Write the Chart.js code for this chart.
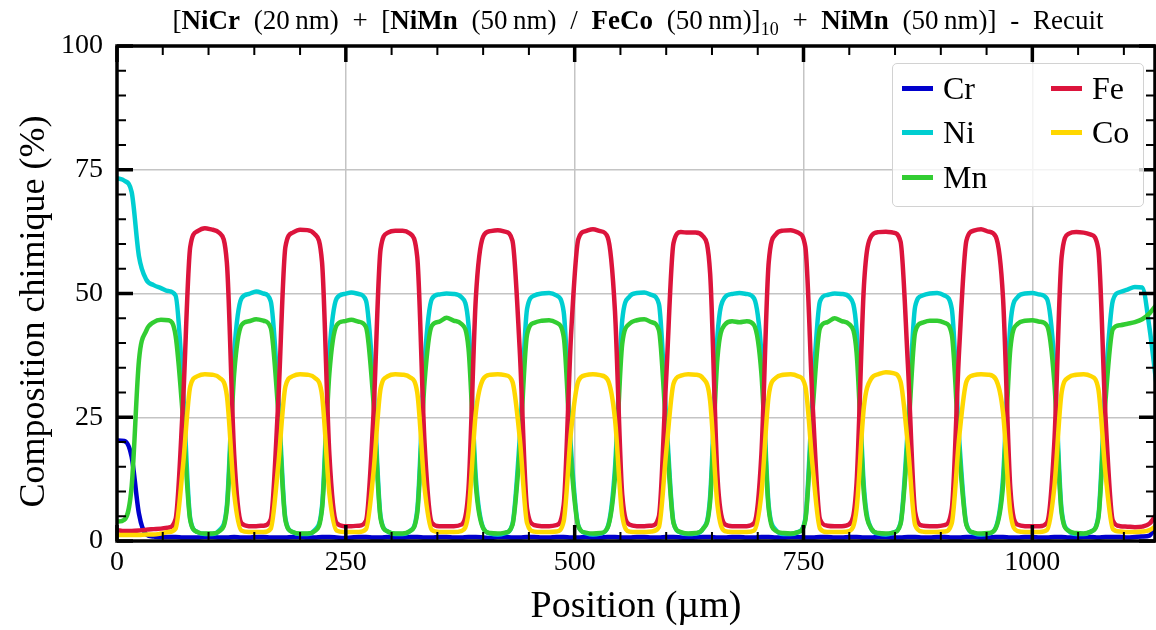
<!DOCTYPE html>
<html>
<head>
<meta charset="utf-8">
<script src="https://cdn.jsdelivr.net/npm/chart.js@4.4.1/dist/chart.umd.min.js"></script>
<style>
  body { margin: 0; background: #fff; }
  #wrap { position: relative; width: 1156px; height: 630px; }
  #title {
    position: absolute; left: 60px; width: 1156px; top: 5px;
    text-align: center; font-family: "Liberation Serif", serif; font-size: 27px; color: #000;
    white-space: nowrap; word-spacing: 7px;
  }
  #title sub { font-size: 18px; }
  #legend {
    position: absolute; left: 892px; top: 63px; width: 252px; height: 144px;
    box-sizing: border-box; border: 1.5px solid #d2d2d2; border-radius: 5px;
    background: rgba(255, 255, 255, 0.8);
    display: grid; grid-template-columns: 149px 1fr; grid-template-rows: repeat(3, 44.5px);
    grid-auto-flow: column; padding-top: 2px;
    font-family: "Liberation Serif", serif; font-size: 32px; color: #000;
  }
  #legend .item { display: flex; align-items: center; }
  #legend .swatch { width: 31px; height: 5px; margin-left: 9px; margin-right: 10px; }
</style>
</head>
<body>
<div id="wrap">
  <canvas id="chart" width="1156" height="630"></canvas>
  <div id="title">[<b>NiCr</b> (20&#8201;nm) + [<b>NiMn</b> (50&#8201;nm) / <b>FeCo</b> (50&#8201;nm)]<sub>10</sub> + <b>NiMn</b> (50&#8201;nm)] - Recuit</div>
  <div id="legend"></div>
</div>
<script>
// profil EDS, un point tous les 8 µm (0 -> 1136 µm)
const step = 8;

const cr = [
  20.3, 20.2, 17.0, 5.5, 1.3, 0.9, 0.8, 0.8,
  0.8, 0.7, 0.7, 0.7, 0.8, 0.8, 0.7, 0.7,
  0.8, 0.7, 0.7, 0.8, 0.8, 0.7, 0.7, 0.7,
  0.8, 0.8, 0.7, 0.7, 0.8, 0.8, 0.7, 0.6,
  0.7, 0.8, 0.8, 0.7, 0.7, 0.8, 0.7, 0.7,
  0.8, 0.8, 0.7, 0.7, 0.8, 0.8, 0.7, 0.7,
  0.8, 0.8, 0.7, 0.6, 0.8, 0.8, 0.7, 0.7,
  0.8, 0.8, 0.7, 0.7, 0.8, 0.8, 0.7, 0.7,
  0.8, 0.7, 0.7, 0.8, 0.8, 0.7, 0.7, 0.8,
  0.8, 0.7, 0.7, 0.8, 0.8, 0.7, 0.6, 0.7,
  0.8, 0.8, 0.7, 0.7, 0.8, 0.8, 0.7, 0.7,
  0.8, 0.8, 0.7, 0.7, 0.8, 0.8, 0.7, 0.7,
  0.8, 0.8, 0.7, 0.7, 0.8, 0.8, 0.7, 0.7,
  0.8, 0.8, 0.7, 0.7, 0.8, 0.8, 0.7, 0.7,
  0.8, 0.8, 0.7, 0.7, 0.8, 0.8, 0.7, 0.7,
  0.8, 0.8, 0.7, 0.7, 0.8, 0.8, 0.7, 0.7,
  0.8, 0.8, 0.7, 0.7, 0.8, 0.8, 0.7, 0.8,
  0.8, 0.8, 0.7, 0.8, 0.9, 1.1, 3.5
];

const ni = [
  73.3, 72.8, 70.5, 57.5, 52.8, 51.7, 51.1, 50.5,
  49.6, 31.0, 4.5, 1.8, 1.4, 1.4, 2.2, 7.1,
  37.9, 49.0, 49.9, 50.4, 50.0, 48.4, 29.7, 4.5,
  1.8, 1.4, 1.4, 2.2, 7.1, 37.9, 49.0, 49.9,
  50.2, 49.9, 48.6, 32.0, 4.9, 1.9, 1.4, 1.4,
  2.0, 6.2, 36.1, 48.9, 49.8, 50.0, 49.9, 49.3,
  43.7, 12.8, 2.7, 1.5, 1.3, 1.6, 3.4, 20.8,
  46.9, 49.6, 50.0, 50.1, 49.6, 46.3, 18.6, 3.1,
  1.6, 1.3, 1.5, 2.8, 14.6, 44.7, 49.4, 50.1,
  50.2, 49.7, 47.9, 25.0, 3.8, 1.7, 1.4, 1.5,
  2.4, 9.0, 41.5, 49.2, 49.9, 50.1, 49.9, 49.0,
  37.9, 7.1, 2.2, 1.4, 1.4, 1.8, 4.5, 29.7,
  48.4, 49.7, 50.0, 49.9, 49.3, 42.6, 10.9, 2.5,
  1.5, 1.3, 1.7, 3.6, 22.9, 47.4, 49.6, 50.0,
  50.1, 49.6, 46.9, 20.8, 3.4, 1.6, 1.3, 1.5,
  2.7, 12.8, 43.7, 49.3, 50.0, 50.1, 49.8, 48.9,
  36.1, 6.2, 2.0, 1.4, 1.4, 1.9, 4.9, 32.0,
  48.6, 50.3, 50.8, 51.3, 51.2, 43.0, 31.0
];

const mn = [
  3.9, 4.3, 11.0, 36.5, 42.5, 44.2, 44.7, 44.6,
  41.5, 25.0, 4.2, 1.8, 1.5, 1.5, 2.0, 6.4,
  33.8, 43.6, 44.4, 44.8, 44.5, 43.0, 26.5, 4.2,
  1.8, 1.5, 1.5, 2.0, 6.4, 33.8, 43.6, 44.4,
  44.7, 44.3, 43.2, 28.5, 4.5, 1.9, 1.5, 1.5,
  2.0, 5.6, 32.1, 43.5, 44.3, 45.1, 44.5, 43.9,
  38.9, 11.3, 2.6, 1.6, 1.5, 1.7, 3.2, 18.5,
  41.7, 44.1, 44.5, 44.6, 44.1, 41.3, 16.5, 3.0,
  1.7, 1.5, 1.6, 2.7, 12.9, 39.9, 43.9, 44.6,
  44.8, 44.2, 42.6, 22.5, 3.6, 1.8, 1.5, 1.6,
  2.4, 8.0, 37.0, 43.7, 44.4, 44.2, 44.4, 43.6,
  33.8, 6.4, 2.0, 1.6, 1.5, 1.8, 4.2, 26.5,
  43.0, 44.2, 45.0, 44.4, 43.8, 38.0, 9.6, 2.5,
  1.6, 1.5, 1.7, 3.4, 20.5, 42.2, 44.1, 44.5,
  44.5, 44.1, 41.7, 18.5, 3.2, 1.7, 1.5, 1.6,
  2.6, 11.3, 38.9, 43.9, 44.5, 44.6, 44.3, 43.5,
  32.1, 5.6, 2.0, 1.6, 1.5, 1.9, 4.5, 28.5,
  42.8, 43.6, 43.9, 44.2, 44.8, 46.0, 47.8
];

const fe = [
  2.2, 2.0, 2.0, 2.1, 2.3, 2.4, 2.5, 2.7,
  4.4, 27.5, 59.4, 62.6, 63.2, 62.9, 62.2, 56.3,
  17.5, 3.6, 3.0, 3.0, 3.1, 4.4, 27.5, 59.4,
  62.3, 62.9, 62.8, 62.0, 56.3, 17.5, 3.6, 3.0,
  3.0, 3.1, 4.1, 24.8, 59.0, 62.3, 62.7, 62.7,
  62.1, 57.4, 19.8, 3.7, 3.0, 3.0, 3.0, 3.3,
  10.5, 49.0, 61.5, 62.6, 62.8, 62.5, 60.7, 38.5,
  6.5, 3.2, 3.0, 3.0, 3.2, 7.3, 41.5, 61.0,
  62.6, 63.0, 62.6, 61.4, 46.5, 9.3, 3.3, 3.0,
  3.0, 3.1, 5.0, 33.0, 60.2, 62.4, 62.3, 62.3,
  61.6, 54.0, 13.0, 3.4, 3.0, 3.0, 3.0, 3.6,
  17.5, 56.3, 62.0, 62.7, 62.8, 62.3, 59.4, 27.5,
  4.4, 3.1, 3.0, 3.0, 3.4, 11.8, 51.5, 61.6,
  62.4, 62.5, 62.3, 60.5, 35.8, 5.8, 3.1, 3.0,
  3.0, 3.2, 6.5, 38.5, 60.7, 62.7, 63.0, 62.5,
  61.5, 49.0, 10.5, 3.3, 3.0, 3.0, 3.0, 3.7,
  19.8, 57.4, 62.1, 62.4, 62.3, 61.9, 59.0, 24.8,
  4.1, 3.0, 2.9, 2.8, 2.9, 3.5, 5.5
];

const co = [
  1.2, 1.2, 1.2, 1.2, 1.3, 1.3, 1.5, 1.8,
  2.5, 15.0, 31.2, 33.3, 33.7, 33.6, 33.0, 29.4,
  9.6, 2.1, 1.8, 1.8, 1.8, 2.5, 15.0, 31.2,
  33.3, 33.7, 33.6, 33.0, 29.4, 9.6, 2.1, 1.8,
  1.8, 1.8, 2.4, 13.5, 30.8, 33.3, 33.7, 33.6,
  33.1, 30.0, 10.8, 2.2, 1.8, 1.8, 1.8, 2.0,
  5.8, 25.9, 32.7, 33.6, 33.7, 33.5, 32.2, 20.8,
  3.6, 1.9, 1.8, 1.8, 1.9, 4.0, 22.1, 32.3,
  33.5, 33.7, 33.5, 32.6, 24.7, 5.1, 1.9, 1.8,
  1.8, 1.9, 2.8, 18.0, 31.8, 33.4, 33.7, 33.6,
  32.9, 28.3, 7.2, 2.0, 1.8, 1.8, 1.8, 2.1,
  9.6, 29.4, 33.0, 33.6, 33.7, 33.3, 31.2, 15.0,
  2.5, 1.8, 1.8, 1.8, 2.0, 6.5, 27.1, 32.8,
  33.7, 34.1, 33.9, 32.2, 19.4, 3.2, 1.9, 1.8,
  1.8, 1.9, 3.6, 20.8, 32.2, 33.5, 33.7, 33.6,
  32.7, 25.9, 5.8, 2.0, 1.8, 1.8, 1.8, 2.2,
  10.8, 30.0, 33.1, 33.6, 33.7, 33.3, 30.8, 13.5,
  2.4, 1.9, 1.8, 1.8, 1.9, 2.2, 3.2
];

const labels = ["Cr", "Ni", "Mn", "Fe", "Co"];
const colors = ["#0000cd", "#00ced1", "#32cd32", "#dc143c", "#ffd700"];
const values = [cr, ni, mn, fe, co];

const xMax = 1134;
const xMajor = [0, 250, 500, 750, 1000];
const yMajor = [0, 25, 50, 75, 100];

const positions = cr.map((_, i) => i * step);

const font = "Liberation Serif";

// legende en deux colonnes (Cr, Ni, Mn | Fe, Co)
const legend = document.getElementById("legend");
labels.forEach((name, i) => {
  const item = document.createElement("div");
  item.className = "item";
  item.innerHTML = '<span class="swatch" style="background:' + colors[i] + '"></span><span>' + name + "</span>";
  legend.appendChild(item);
});

// cadre noir + graduations vers l'interieur sur les 4 cotes
const frameTicks = {
  id: "frameTicks",
  afterDraw(chart) {
    const { ctx, chartArea: a, scales } = chart;
    ctx.save();
    ctx.strokeStyle = "#000";

    for (let v = 0; v <= xMax; v += 50) {
      const px = scales.x.getPixelForValue(v);
      const major = v % 250 === 0;
      const len = major ? 16 : 9;
      ctx.lineWidth = major ? 3.5 : 2;
      ctx.beginPath();
      ctx.moveTo(px, a.bottom); ctx.lineTo(px, a.bottom - len);
      ctx.moveTo(px, a.top); ctx.lineTo(px, a.top + len);
      ctx.stroke();
    }

    for (let v = 0; v <= 100; v += 5) {
      const py = scales.y.getPixelForValue(v);
      const major = v % 25 === 0;
      const len = major ? 16 : 9;
      ctx.lineWidth = major ? 3.5 : 2;
      ctx.beginPath();
      ctx.moveTo(a.left, py); ctx.lineTo(a.left + len, py);
      ctx.moveTo(a.right, py); ctx.lineTo(a.right - len, py);
      ctx.stroke();
    }

    ctx.lineWidth = 3.5;
    ctx.strokeRect(a.left, a.top, a.right - a.left, a.bottom - a.top);
    ctx.restore();
  }
};

new Chart(document.getElementById("chart"), {
  type: "line",
  data: {
    datasets: labels.map((name, i) => ({
      label: name,
      data: values[i].map((v, j) => ({ x: positions[j], y: v })),
      borderColor: colors[i],
      backgroundColor: colors[i],
      borderWidth: 4.5,
      pointRadius: 0,
      fill: false,
      cubicInterpolationMode: "monotone",
      borderJoinStyle: "round",
      order: labels.length - i
    }))
  },
  options: {
    responsive: false,
    animation: false,
    events: [],
    layout: { padding: { top: 46, right: 1, bottom: 0, left: 0 } },
    plugins: {
      legend: { display: false },
      title: { display: false },
      tooltip: { enabled: false }
    },
    scales: {
      x: {
        type: "linear",
        min: 0,
        max: xMax,
        afterBuildTicks: s => { s.ticks = xMajor.map(v => ({ value: v })); },
        afterFit: s => { s.height = 89; },
        grid: { color: "#c4c4c4", lineWidth: 1.5, drawTicks: false },
        border: { display: false },
        ticks: {
          color: "#000", padding: 5, font: { family: font, size: 28 },
          callback: v => String(v)
        },
        title: {
          display: true,
          text: "Position (µm)",
          color: "#000",
          font: { family: font, size: 38 },
          padding: { top: 0, bottom: 0 }
        }
      },
      y: {
        min: 0,
        max: 100,
        afterBuildTicks: s => { s.ticks = yMajor.map(v => ({ value: v })); },
        afterFit: s => { s.width = 117; },
        grid: { color: "#c4c4c4", lineWidth: 1.5, drawTicks: false },
        border: { display: false },
        ticks: {
          color: "#000", padding: 14, font: { family: font, size: 28 },
          callback: v => String(v)
        },
        title: {
          display: true,
          text: "Composition chimique (%)\u2002\u2002",
          color: "#000",
          font: { family: font, size: 36 },
          padding: { top: 13, bottom: 0 }
        }
      }
    }
  },
  plugins: [frameTicks]
});
</script>
</body>
</html>
